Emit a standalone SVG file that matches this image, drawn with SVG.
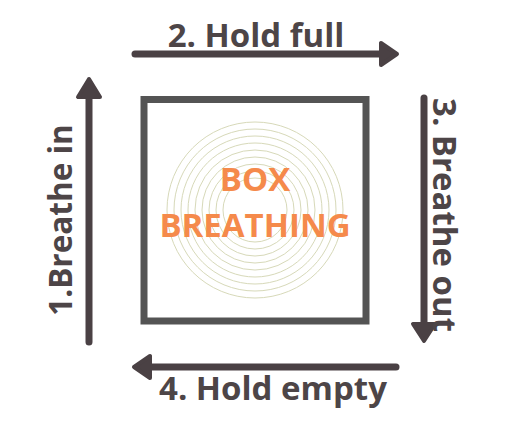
<svg xmlns="http://www.w3.org/2000/svg" width="510" height="435" viewBox="0 0 510 435">
<style>
.lbl{font-family:"Open Sans","Noto Sans","Liberation Sans",sans-serif;font-weight:bold;font-size:33px;fill:#4d4547}
.title{font-family:"Open Sans","Noto Sans","Liberation Sans",sans-serif;font-weight:bold;font-size:33px;fill:#f58a4b;text-anchor:middle}
.shaft{stroke:#4a4144;stroke-width:7;stroke-linecap:round;fill:none}
.head{fill:#4a4144;stroke:#4a4144;stroke-width:4;stroke-linejoin:round}
.ring{fill:none;stroke:#d7d9b9;stroke-width:1}
</style>
<rect width="510" height="435" fill="#ffffff"/>
<g id="box">
<rect x="144" y="99.5" width="222" height="221.5" fill="#ffffff" stroke="#545454" stroke-width="7"/>
<g>
<circle class="ring" cx="255" cy="210" r="88"/>
<circle class="ring" cx="255" cy="210" r="81"/>
<circle class="ring" cx="255" cy="210" r="74"/>
<circle class="ring" cx="255" cy="210" r="67"/>
<circle class="ring" cx="255" cy="210" r="60"/>
<circle class="ring" cx="255" cy="210" r="53"/>
<circle class="ring" cx="255" cy="210" r="46"/>
<circle class="ring" cx="255" cy="210" r="39"/>
<circle class="ring" cx="255" cy="210" r="32"/>
</g>
<text class="title" x="255" y="191">BOX</text>
<text class="title" x="255" y="237">BREATHING</text>
</g>
<g id="connectors">
<g id="arrow-up">
<line class="shaft" x1="89" y1="342" x2="89" y2="92"/>
<polygon class="head" points="89,79 78,97 100,97"/>
</g>
<g id="arrow-right">
<line class="shaft" x1="135" y1="54" x2="384" y2="54"/>
<polygon class="head" points="397,54 381,43 381,65"/>
</g>
<g id="arrow-down">
<line class="shaft" x1="424" y1="98" x2="424" y2="328"/>
<polygon class="head" points="424,341 413,324 435,324"/>
</g>
<g id="arrow-left">
<line class="shaft" x1="396" y1="367" x2="146" y2="367"/>
<polygon class="head" points="134,367 150,356 150,378"/>
</g>
</g>
<g id="label-1">
<text class="lbl" style="font-size:31.5px" transform="translate(72,220) rotate(-90)" text-anchor="middle">1.Breathe in</text>
</g>
<g id="label-2">
<text class="lbl" x="256" y="47" text-anchor="middle">2. Hold full</text>
</g>
<g id="label-3">
<text class="lbl" transform="translate(433,215) rotate(90)" text-anchor="middle">3. Breathe out</text>
</g>
<g id="label-4">
<text class="lbl" x="273" y="400" text-anchor="middle">4. Hold empty</text>
</g>
</svg>
